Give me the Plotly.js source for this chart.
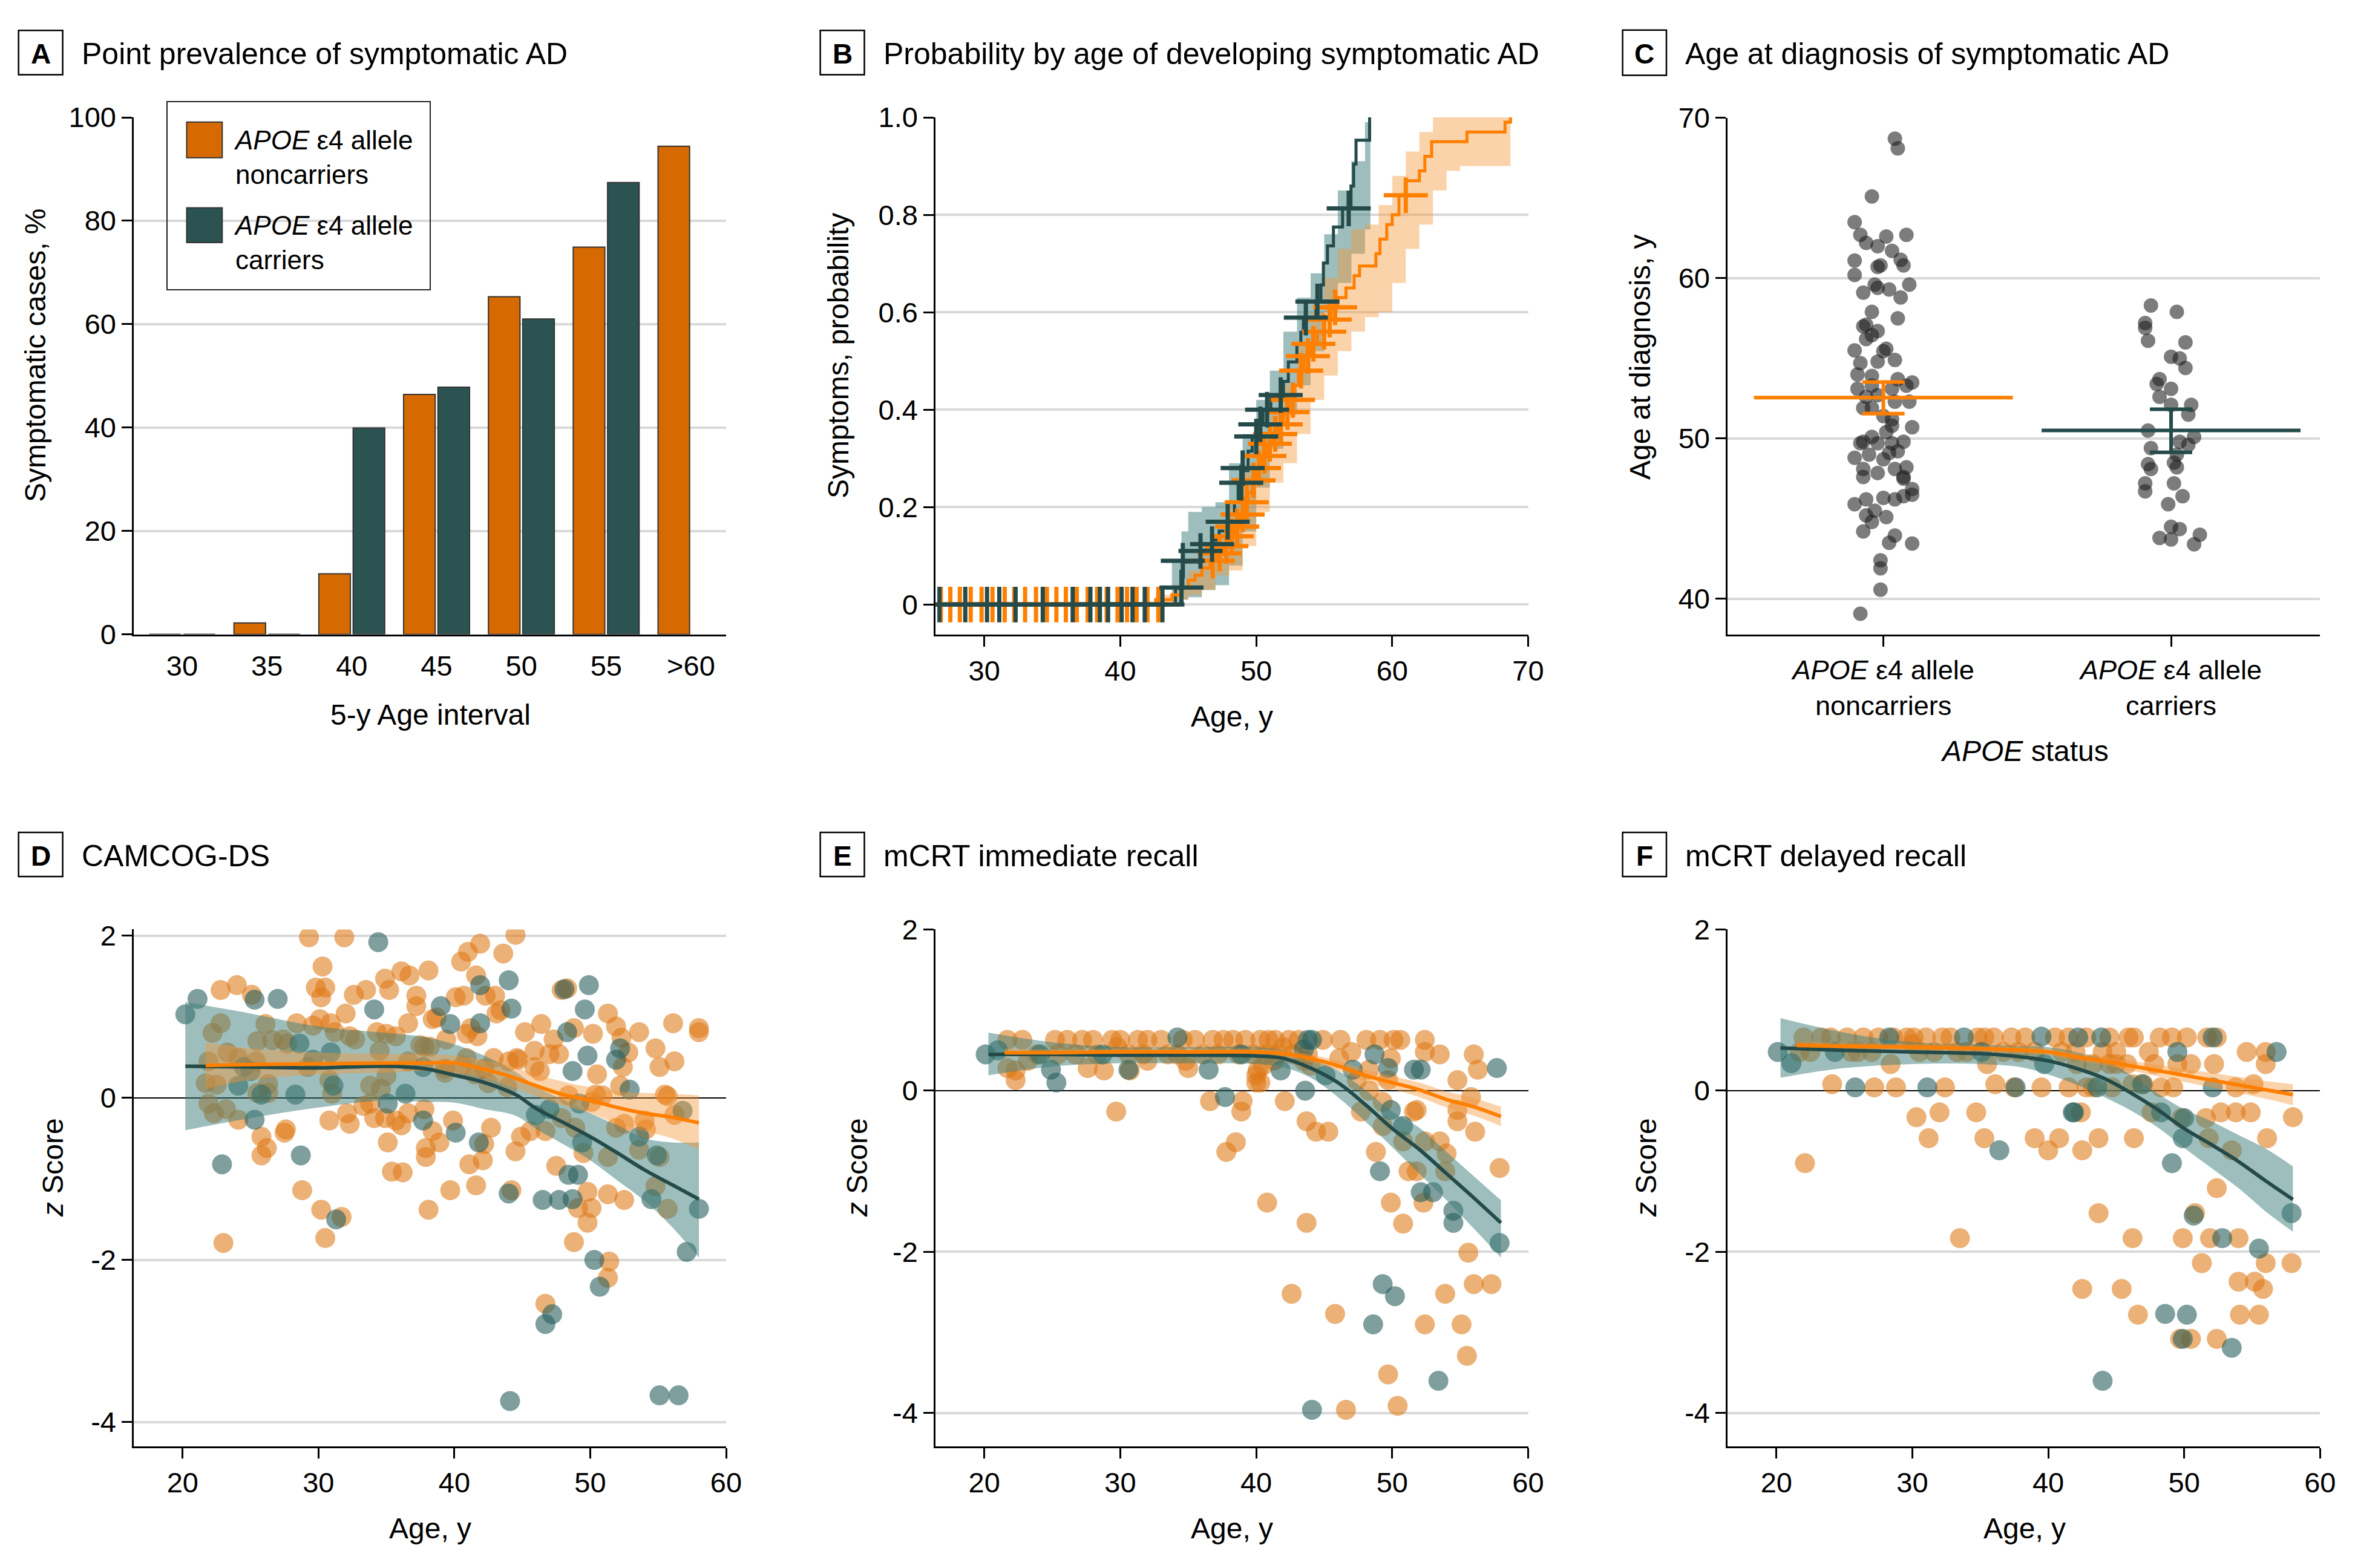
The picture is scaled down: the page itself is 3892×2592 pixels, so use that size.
<!DOCTYPE html>
<html>
<head>
<meta charset="utf-8">
<script src="https://cdn.plot.ly/plotly-3.0.1.min.js"></script>
<style>html,body{margin:0;padding:0;background:#fff;}#chart{width:3892px;height:2592px;}</style>
</head>
<body>
<div id="chart"></div>
<script>
// ---------------- DATA ----------------
// Panel A: point prevalence (%)
const ageIntervals = ['30', '35', '40', '45', '50', '55', '>60'];
const prevNoncarriers = [0, 2.2, 11.7, 46.4, 65.3, 74.9, 94.4];
const prevCarriers = [0, 0, 39.9, 47.8, 61.0, 87.4, null];

// Panel B: cumulative probability of symptoms (step curves)
const kmCarAge = [26.7, 44.06, 44.6, 45.9, 46.75, 47.27, 47.93, 48.4, 48.67, 49.04, 49.4, 49.7, 50.33, 50.5, 51.07, 52.0, 52.36, 52.99, 53.28, 53.47, 54.39, 54.76, 54.94, 55.24, 55.68, 56.35, 56.97, 57.16, 57.34, 58.34];
const kmCarProb = [0, 0.033, 0.087, 0.112, 0.132, 0.151, 0.186, 0.211, 0.25, 0.275, 0.315, 0.345, 0.369, 0.399, 0.427, 0.458, 0.498, 0.536, 0.559, 0.589, 0.622, 0.656, 0.701, 0.736, 0.775, 0.813, 0.859, 0.904, 0.953, 1.0];
const kmCarBandAge = [43.8, 44.5, 45, 46, 47, 48, 49, 50, 51, 52, 53, 54, 55, 56, 57, 58, 58.4];
const kmCarBandHi = [0.09, 0.15, 0.19, 0.20, 0.21, 0.29, 0.35, 0.42, 0.48, 0.56, 0.63, 0.68, 0.76, 0.85, 0.91, 0.99, 1.0];
const kmCarBandLo = [0.0, 0.01, 0.015, 0.03, 0.04, 0.08, 0.15, 0.24, 0.32, 0.39, 0.45, 0.52, 0.60, 0.66, 0.72, 0.77, 0.78];
const kmNonAge = [26.8, 42.6, 43.8, 44.5, 45.0, 45.5, 46.0, 46.6, 47.1, 47.6, 48.0, 48.4, 48.8, 49.1, 49.4, 49.7, 50.0, 50.4, 50.8, 51.2, 51.6, 52.0, 52.4, 52.8, 53.1, 53.5, 54.0, 54.5, 55.0, 55.5, 56.0, 56.6, 57.2, 57.6, 58.8, 59.1, 59.6, 60.0, 60.5, 61.0, 62.0, 62.4, 62.9, 65.5, 68.3, 68.7];
const kmNonProb = [0, 0.01, 0.02, 0.035, 0.05, 0.06, 0.075, 0.09, 0.105, 0.12, 0.14, 0.16, 0.185, 0.21, 0.23, 0.255, 0.28, 0.305, 0.33, 0.35, 0.37, 0.395, 0.42, 0.45, 0.48, 0.51, 0.535, 0.56, 0.585, 0.61, 0.63, 0.65, 0.675, 0.695, 0.72, 0.75, 0.78, 0.80, 0.84, 0.87, 0.89, 0.92, 0.95, 0.97, 0.99, 1.0];
const kmNonBandAge = [42.6, 44, 45, 46, 47, 48, 49, 50, 51, 52, 53, 54, 55, 56, 57, 58, 59, 60, 61, 62, 63, 64, 65, 68.7];
const kmNonBandHi = [0.02, 0.035, 0.07, 0.10, 0.14, 0.20, 0.27, 0.33, 0.40, 0.45, 0.53, 0.60, 0.67, 0.73, 0.77, 0.78, 0.82, 0.88, 0.93, 0.97, 1.0, 1.0, 1.0, 1.0];
const kmNonBandLo = [0, 0.01, 0.02, 0.03, 0.06, 0.07, 0.12, 0.19, 0.25, 0.29, 0.35, 0.42, 0.47, 0.52, 0.56, 0.59, 0.60, 0.66, 0.73, 0.78, 0.85, 0.89, 0.90, 0.91];
const censorCar = [[26.7,0],[28.6,0],[30.2,0],[31.1,0],[32.3,0],[34.3,0],[36.5,0],[37.8,0],[38.5,0],[39.1,0],[40.1,0],[40.9,0],[41.8,0],[43.1,0],
  [44.5,0.035],[44.6,0.09],[45.9,0.11],[46.75,0.124],[47.9,0.17],[48.9,0.25],[49.0,0.28],[50.0,0.345],[50.3,0.37],[50.8,0.40],[51.8,0.43],[53.65,0.589],[54.5,0.622],[56.8,0.813]];
const censorNon = [[26.8,0],[27.5,0],[28.2,0],[29.0,0],[29.8,0],[30.6,0],[31.5,0],[32.2,0],[33.0,0],[33.8,0],[34.6,0],[35.3,0],[36.0,0],[36.8,0],[37.6,0],[38.3,0],[39.0,0],[39.8,0],[40.5,0],[41.2,0],[42.0,0],[42.8,0],
  [46.8,0.09],[47.3,0.105],[47.8,0.12],[48.2,0.14],[48.6,0.16],[49.0,0.185],[49.3,0.21],[49.8,0.255],[50.2,0.28],[50.6,0.305],[51.0,0.33],[51.4,0.35],[51.8,0.37],[52.3,0.395],[52.7,0.42],[53.3,0.48],[53.8,0.51],[54.2,0.535],[55.0,0.56],[55.4,0.585],[55.8,0.61],[61.0,0.84]];

// Panel C: age at diagnosis, [jittered category position, age]
const diagNoncarriers = [[-0.08,39.07],[-0.01,40.57],[-0.01,41.9],[-0.01,42.4],[0.02,43.5],[0.10,43.45],[0.04,43.95],[-0.07,44.2],[-0.04,44.8],[-0.06,45.2],[0.01,45.1],[-0.03,45.5],[-0.10,45.9],[-0.06,46.2],[0.0,46.3],[0.04,46.2],[0.07,46.4],[0.10,46.5],[0.10,46.85],[0.07,47.5],[0.07,47.6],[-0.07,47.6],[-0.02,47.85],[0.04,48.1],[0.08,48.2],[-0.07,48.1],[-0.10,48.8],[-0.05,49.0],[0.0,48.7],[0.02,49.1],[0.05,49.2],[-0.08,49.7],[-0.07,49.8],[-0.02,49.7],[0.03,49.7],[0.07,49.8],[-0.04,50.1],[0.01,50.4],[0.10,50.7],[0.03,50.8],[0.0,51.4],[0.03,51.2],[-0.07,51.9],[-0.04,51.9],[0.04,52.3],[0.09,52.3],[-0.06,52.6],[-0.02,52.7],[-0.09,53.1],[-0.04,53.3],[0.03,53.1],[0.08,53.3],[0.10,53.5],[0.05,53.7],[-0.09,54.0],[-0.04,53.9],[-0.08,54.7],[-0.02,54.8],[0.04,54.9],[0.0,55.45],[0.01,55.6],[-0.10,55.5],[-0.06,56.2],[-0.04,56.45],[-0.02,56.7],[-0.07,57.0],[-0.06,57.1],[0.05,57.5],[-0.04,57.9],[0.06,58.8],[-0.07,59.1],[-0.02,59.4],[0.02,59.3],[-0.03,59.6],[0.09,59.6],[-0.10,60.2],[-0.02,60.7],[-0.01,60.8],[0.07,60.8],[-0.10,61.1],[0.06,61.15],[0.03,61.7],[-0.02,62.0],[-0.06,62.2],[-0.08,62.7],[0.01,62.6],[0.08,62.7],[-0.10,63.5],[-0.04,65.1],[0.05,68.1],[0.04,68.7]];
const diagCarriers = [[0.93,58.3],[1.02,57.9],[0.91,57.2],[0.91,56.9],[0.92,56.1],[1.05,56.0],[1.00,55.1],[1.03,55.0],[1.05,54.4],[0.96,53.7],[0.95,53.4],[1.00,53.1],[0.96,52.6],[1.07,52.1],[1.00,52.1],[1.06,51.5],[0.92,50.5],[1.03,49.8],[1.08,50.1],[1.06,49.6],[0.93,49.4],[1.02,49.0],[0.92,48.4],[0.93,48.1],[1.01,48.5],[1.02,48.2],[1.01,47.2],[0.91,47.2],[0.91,46.7],[1.04,46.4],[0.99,45.9],[1.00,44.5],[1.03,44.35],[0.96,43.8],[1.00,43.7],[1.10,44.0],[1.08,43.4]];
const diagMean = [52.55, 50.51];
const diagCILow = [51.55, 49.14];
const diagCIHigh = [53.52, 51.83];

// Panel D: CAMCOG-DS z scores [age, z]
const camNon = [[22.8,1.33],[24.0,1.39],[25.1,1.27],[22.8,0.92],[22.2,0.80],[21.9,0.45],[23.3,0.56],[24.1,0.49],[25.4,0.45],[26.1,0.91],[25.5,0.70],[26.6,0.71],[27.7,0.67],[27.4,0.72],[28.4,0.92],[21.7,0.18],[22.5,0.16],[25.5,0.06],[26.3,0.06],[26.3,0.17],[21.9,-0.07],[22.3,-0.19],[23.2,-0.14],[24.1,-0.27],[25.8,-0.48],[26.2,-0.62],[25.8,-0.71],[27.6,-0.39],[27.5,-0.43],[28.8,-1.14],[30.2,-1.38],[31.7,-1.47],[30.5,-1.73],[23.0,-1.79],[29.3,1.98],[31.9,1.98],[30.3,1.62],[29.8,1.36],[30.5,1.36],[30.2,1.24],[32.6,1.27],[33.5,1.33],[34.9,1.47],[35.2,1.33],[36.1,1.56],[36.7,1.51],[38.1,1.57],[37.2,1.26],[37.2,1.13],[38.4,0.97],[36.6,0.92],[29.6,0.89],[30.1,0.97],[30.9,0.92],[32.0,1.04],[32.3,0.76],[31.2,0.81],[32.7,0.72],[29.2,0.38],[34.3,0.81],[35.0,0.79],[35.7,0.76],[34.5,0.58],[36.6,0.45],[37.5,0.65],[37.8,0.63],[33.8,0.15],[35.0,0.27],[34.6,0.11],[30.8,0.22],[31.0,0.05],[33.3,-0.10],[33.8,-0.07],[34.1,-0.25],[34.9,-0.25],[35.7,-0.28],[36.1,-0.34],[36.6,-0.19],[37.8,-0.14],[30.8,-0.28],[32.1,-0.19],[32.3,-0.32],[35.1,-0.55],[35.4,-0.91],[36.2,-0.92],[37.9,-0.62],[37.9,-0.73],[38.1,-1.38],[38.4,-0.41],
  [44.5,2.01],[43.6,1.78],[41.9,1.90],[41.0,1.80],[40.5,1.68],[41.6,1.51],[40.1,1.24],[40.7,1.26],[42.3,1.26],[43.0,1.26],[43.4,1.08],[43.1,1.04],[38.7,0.99],[41.2,0.86],[41.7,0.76],[40.9,0.79],[39.4,0.72],[38.2,0.63],[39.3,0.31],[40.9,0.49],[41.5,0.29],[42.5,0.18],[42.9,0.49],[43.9,0.13],[44.6,0.49],[45.2,0.81],[46.4,0.91],[45.9,0.58],[46.3,0.33],[47.9,1.33],[48.3,1.35],[47.3,0.72],[48.8,0.86],[50.2,0.79],[47.0,0.54],[47.7,0.54],[50.5,0.29],[51.3,1.04],[51.9,0.88],[52.3,0.74],[52.8,0.56],[52.4,0.38],[53.6,0.81],[54.8,0.61],[55.1,0.38],[56.1,0.92],[56.2,0.45],[58.0,0.86],[58.0,0.81],[52.2,0.15],[50.9,0.03],[48.4,0.03],[50.1,-0.05],[55.5,0.04],[55.7,0.02],[56.2,-0.21],[47.9,-0.25],[48.9,-0.37],[51.9,-0.37],[52.5,-0.32],[54.0,-0.28],[54.1,-0.39],[53.6,-0.64],[44.9,-0.48],[45.6,-0.41],[46.7,-0.41],[44.5,-0.66],[49.5,-0.68],[51.3,-0.73],[55.1,-0.73],[47.5,-0.84],[54.8,-1.09],[55.7,-1.37],[49.8,-1.16],[51.3,-1.19],[52.5,-1.26],[49.1,-1.36],[50.1,-1.36],[49.8,-1.54],[48.8,-1.78],[51.4,-2.02],[51.3,-2.22],[46.7,-2.54],[39.7,-1.14],[41.6,-1.08],[44.2,-1.14],[41.1,-0.82],[42.1,-0.77],[42.2,-0.57],[42.7,-0.37],[39.9,-0.28],[38.9,-0.55],[39.3,0.36],[40.6,0.40],[42.2,0.36],[44.0,0.45],[44.7,0.47],[45.9,0.38],[50.4,0.04]];
const camCar = [[20.2,1.03],[21.1,1.22],[25.3,1.21],[27.0,1.22],[28.6,0.67],[24.1,0.15],[25.0,0.33],[24.5,0.38],[25.8,0.04],[28.3,0.04],[25.3,-0.27],[22.9,-0.82],[28.7,-0.71],[31.3,-1.50],[34.4,1.92],[34.1,1.09],[30.9,0.56],[29.6,0.47],[37.7,0.38],[36.4,0.05],[31.1,0.15],[35.1,-0.07],[37.7,-0.28],[44.0,1.45],[41.9,1.39],[44.2,1.10],[39.0,1.13],[39.7,0.91],[41.9,0.92],[48.1,1.34],[49.9,1.39],[49.6,1.09],[48.3,0.81],[48.7,0.33],[49.8,0.52],[52.2,0.61],[51.9,0.47],[52.9,0.10],[49.2,-0.07],[56.8,-0.16],[46.0,-0.21],[47.0,-0.14],[53.6,-0.48],[49.4,-0.55],[54.9,-0.71],[48.4,-0.95],[49.1,-0.95],[54.5,-1.25],[58.0,-1.37],[46.5,-1.26],[47.7,-1.26],[48.7,-1.25],[50.3,-2.00],[57.1,-1.90],[50.7,-2.33],[47.2,-2.67],[46.7,-2.79],[44.1,-3.74],[55.1,-3.67],[56.5,-3.67],[44.0,-1.18],[41.8,-0.55],[40.1,-0.43]];
const camFitCarAge = [20.2, 25, 30, 35, 37.8, 40, 42.2, 44.5, 46, 48.2, 50, 52, 54, 56, 58];
const camFitCar = [0.39, 0.38, 0.37, 0.39, 0.36, 0.28, 0.19, 0.04, -0.13, -0.32, -0.48, -0.68, -0.89, -1.07, -1.25];
const camFitCarHi = [1.18, 1.04, 0.88, 0.80, 0.75, 0.66, 0.52, 0.32, 0.14, -0.04, -0.19, -0.34, -0.50, -0.55, -0.55];
const camFitCarLo = [-0.40, -0.25, -0.12, -0.03, -0.05, -0.06, -0.14, -0.22, -0.38, -0.59, -0.77, -1.02, -1.27, -1.59, -1.97];
const camFitNonAge = [21.7, 25, 30, 35, 38, 40, 42, 44, 46, 48, 50, 52, 54, 56, 58];
const camFitNon = [0.40, 0.41, 0.42, 0.43, 0.43, 0.43, 0.36, 0.27, 0.15, 0.04, -0.03, -0.12, -0.19, -0.24, -0.31];
const camFitNonHi = [0.68, 0.61, 0.56, 0.54, 0.54, 0.52, 0.47, 0.40, 0.29, 0.20, 0.13, 0.08, 0.06, 0.05, 0.03];
const camFitNonLo = [0.11, 0.22, 0.29, 0.31, 0.33, 0.31, 0.26, 0.15, 0.02, -0.10, -0.19, -0.32, -0.41, -0.50, -0.64];

// Panel E: mCRT immediate recall
const immNon = [[29.7,-0.26],[36.6,-0.13],[39.0,-0.13],[38.9,-0.26],[38.5,-0.64],[37.8,-0.76],[40.0,0.10],[42.1,-0.13],[43.7,-0.38],[44.4,-0.51],[45.3,-0.51],[40.8,-1.39],[43.7,-1.64],[42.6,-2.52],[45.8,-2.77],[46.6,-3.96],[49.7,-3.52],[50.4,-3.91],[48.8,-0.76],[49.9,-1.39],[50.8,-1.65],[51.2,-1.0],[51.8,-1.0],[52.3,-1.39],[52.4,-2.90],[53.9,-2.52],[55.1,-2.90],[55.5,-3.29],[55.6,-2.01],[56.0,-2.40],[57.3,-2.40],[57.9,-0.96],[53.5,-0.63],[54.0,-0.78],[53.9,-1.0],[52.4,-0.63],[50.8,-0.63],[49.3,-0.44],[49.3,-0.14],[47.7,-0.26],[48.3,0.0],[51.6,-0.26],[54.8,-0.38],[54.8,-0.24],[55.8,-0.08],[56.1,-0.51],[54.8,0.13],[56.3,0.26],[56.0,0.45],[53.5,0.45],[52.4,0.48],[52.4,0.63],[51.8,-0.24],[49.7,0.13],[49.9,0.40],[50.1,0.63],[50.6,0.63],[49.1,0.63],[48.1,0.63],[48.3,0.26],[47.4,0.13],[47.0,0.48],[46.1,0.40],[46.2,0.63],[44.9,0.63],[44.0,0.31],[43.8,0.45],[40.0,0.19],[40.5,0.31],
  [21.7,0.63],[22.3,0.25],[22.3,0.13],[22.8,0.63],[23.2,0.37],[21.7,0.28],[25.2,0.63],[25.4,0.45],[26.1,0.63],[27.6,0.28],[27.2,0.63],[28.0,0.63],[28.8,0.25],[29.4,0.63],[30.0,0.63],[30.7,0.25],[31.3,0.63],[32.0,0.37],[32.0,0.63],[33.0,0.63],[33.5,0.45],[34.6,0.63],[35.0,0.28],[35.5,0.63],[36.1,0.45],[36.8,0.63],[37.2,0.45],[37.6,0.63],[38.3,0.63],[39.2,0.63],[39.8,0.45],[40.3,0.63],[40.7,0.45],[40.9,0.63],[41.3,0.37],[41.4,0.63],[42.0,0.54],[42.4,0.63],[42.7,0.45],[43.1,0.63],[43.5,0.37],[23.9,0.45],[26.7,0.45],[28.3,0.45],[29.8,0.54],[30.6,0.45],[31.7,0.45],[34.2,0.45],[34.8,0.37],[38.7,0.45],[40.1,0.25],[40.3,0.10],[41.6,0.45]];
const immCar = [[20.1,0.45],[21.0,0.50],[24.1,0.45],[24.9,0.26],[25.3,0.10],[28.7,0.45],[30.6,0.26],[34.2,0.66],[36.5,0.26],[38.9,0.45],[41.8,0.25],[43.5,0.51],[43.8,0.63],[37.7,-0.08],[43.6,0.0],[44.1,-3.96],[48.6,-2.90],[49.3,-2.40],[50.2,-2.55],[49.1,-1.00],[52.1,-1.26],[53.0,-1.26],[53.4,-3.60],[57.9,-1.89],[54.5,-1.49],[54.5,-1.64],[49.9,-0.24],[50.8,-0.44],[57.7,0.28],[52.1,0.26],[51.6,0.26],[49.7,0.28],[48.7,0.45],[47.1,0.26],[45.1,0.19],[44.1,0.63]];
const immFitCarAge = [20.3, 25, 30, 35, 40, 42, 44, 46, 48, 50, 52, 54, 56, 58];
const immFitCar = [0.45, 0.45, 0.44, 0.44, 0.43, 0.40, 0.28, 0.10, -0.17, -0.47, -0.73, -1.03, -1.33, -1.64];
const immFitCarHi = [0.72, 0.60, 0.54, 0.54, 0.54, 0.50, 0.40, 0.25, 0.01, -0.26, -0.46, -0.76, -1.06, -1.36];
const immFitCarLo = [0.19, 0.30, 0.34, 0.34, 0.33, 0.29, 0.16, -0.08, -0.38, -0.70, -1.03, -1.36, -1.71, -2.07];
const immFitNonAge = [21.5, 25, 30, 35, 40, 42, 44, 46, 48, 50, 52, 54, 56, 58];
const immFitNon = [0.47, 0.47, 0.48, 0.48, 0.48, 0.46, 0.40, 0.31, 0.19, 0.10, 0.01, -0.11, -0.20, -0.32];
const immFitNonHi = [0.52, 0.51, 0.52, 0.52, 0.52, 0.50, 0.45, 0.37, 0.26, 0.18, 0.10, -0.01, -0.09, -0.20];
const immFitNonLo = [0.42, 0.43, 0.44, 0.44, 0.44, 0.42, 0.35, 0.25, 0.12, 0.02, -0.08, -0.21, -0.31, -0.44];

// Panel F: mCRT delayed recall
const delNon = [[22.1,-0.90],[24.1,0.08],[27.2,0.04],[28.8,0.04],[30.3,-0.33],[31.2,-0.59],[32.0,-0.27],[32.4,0.04],[33.5,-1.83],[34.7,-0.27],[35.3,-0.59],[36.1,0.08],[37.5,0.04],[39.0,-0.59],[39.5,0.04],[40.0,-0.74],[40.8,-0.59],[41.5,0.04],[42.5,-0.74],[42.5,-2.46],[42.8,0.04],[42.4,-0.27],[43.7,-0.59],[43.7,-1.52],[45.4,-2.46],[44.7,0.04],[46.2,-1.83],[46.3,-0.59],[46.6,-2.78],[47.6,-0.27],[48.3,0.04],[49.2,0.04],[49.8,-0.34],[49.9,-1.83],[49.7,-3.08],[50.5,-3.08],[50.8,-1.52],[51.3,-2.14],[51.6,-0.34],[51.8,-0.59],[51.9,-1.83],[52.4,-1.21],[52.4,-3.08],[52.7,-0.27],[53.5,-0.74],[53.8,-0.27],[53.8,0.04],[54.0,-1.83],[54.0,-2.37],[54.1,-2.78],[54.9,-0.27],[55.1,0.08],[55.2,-2.37],[55.5,-2.78],[55.8,-2.46],[56.0,-2.14],[56.1,-0.59],[56.0,0.33],[54.6,0.48],[56.0,0.48],[57.9,-2.14],[58.0,-0.33],[52.2,0.33],[52.4,0.66],[51.7,0.66],[50.5,0.33],[50.2,0.66],[49.1,0.66],[48.2,0.66],[49.5,0.33],[47.4,0.48],[47.8,0.33],[45.9,0.66],[46.3,0.66],[45.8,0.33],[45.0,0.48],[44.5,0.33],[43.3,0.04],[42.1,0.33],
  [22.0,0.66],[22.5,0.48],[23.3,0.66],[24.0,0.66],[25.2,0.66],[25.5,0.48],[26.4,0.66],[27.0,0.48],[27.5,0.66],[28.6,0.66],[29.6,0.66],[30.1,0.66],[30.5,0.48],[31.0,0.66],[31.6,0.48],[32.2,0.66],[32.8,0.66],[33.3,0.48],[34.0,0.48],[34.8,0.66],[35.3,0.66],[35.5,0.33],[36.0,0.66],[36.7,0.48],[37.3,0.66],[37.8,0.48],[38.3,0.66],[39.0,0.48],[40.5,0.66],[41.0,0.48],[41.5,0.66],[42.0,0.48],[42.8,0.66],[43.3,0.33],[44.0,0.48],[44.5,0.66],[45.0,0.33],[28.4,0.33],[30.0,0.58],[21.7,0.48],[46.2,0.08],[47.0,0.08],[26.0,0.48]];
const delCar = [[20.1,0.48],[21.1,0.34],[25.8,0.04],[31.1,0.04],[36.4,-0.74],[41.8,-0.27],[43.6,0.04],[44.0,-3.60],[46.9,0.08],[48.3,-0.27],[49.1,-0.90],[49.9,-0.59],[50.0,-0.34],[49.5,0.48],[48.6,-2.77],[50.2,-2.78],[49.9,-3.08],[50.7,-1.55],[52.1,0.04],[52.1,0.66],[52.8,-1.83],[53.5,-3.19],[55.5,-1.96],[56.8,0.48],[57.9,-1.52],[33.8,0.66],[39.5,0.67],[35.1,0.48],[42.2,0.66],[43.9,0.66],[39.7,0.33],[24.3,0.48],[28.3,0.66],[37.6,0.04],[41.9,-0.27]];
const delFitCarAge = [20.3, 25, 30, 35, 38, 40, 42, 44, 46, 48, 50, 52, 54, 56, 58];
const delFitCar = [0.53, 0.50, 0.48, 0.46, 0.42, 0.37, 0.28, 0.16, -0.02, -0.23, -0.47, -0.67, -0.88, -1.12, -1.35];
const delFitCarHi = [0.90, 0.72, 0.60, 0.57, 0.55, 0.54, 0.48, 0.39, 0.20, -0.03, -0.23, -0.38, -0.55, -0.72, -0.94];
const delFitCarLo = [0.16, 0.28, 0.33, 0.33, 0.29, 0.20, 0.08, -0.07, -0.24, -0.45, -0.71, -0.96, -1.21, -1.50, -1.75];
const delFitNonAge = [21.5, 25, 30, 35, 40, 42, 44, 46, 48, 50, 52, 54, 56, 58];
const delFitNon = [0.56, 0.55, 0.54, 0.52, 0.48, 0.42, 0.37, 0.31, 0.25, 0.19, 0.13, 0.07, 0.01, -0.05];
const delFitNonHi = [0.61, 0.59, 0.58, 0.56, 0.52, 0.47, 0.42, 0.37, 0.32, 0.27, 0.22, 0.17, 0.12, 0.08];
const delFitNonLo = [0.51, 0.51, 0.50, 0.48, 0.44, 0.37, 0.32, 0.25, 0.18, 0.11, 0.04, -0.03, -0.10, -0.18];

// ---------------- STYLE ----------------
const FONT = 'Liberation Sans, Arial, sans-serif';
const W = 3892, H = 2592;
const C_BAR_OR = '#D66A00', C_BAR_TE = '#2B5352';
const C_LINE_OR = '#FF7F00', C_LINE_TE = '#244B4A';
const C_BAND_OR = 'rgba(245,150,55,0.42)', C_BAND_TE = 'rgba(60,125,122,0.5)';
const C_PT_OR = 'rgba(223,120,20,0.58)', C_PT_TE = 'rgba(40,95,93,0.6)';
const GRID = '#D9D9D9';
const px = v => v / W, py = v => 1 - v / H;

const colX = [[221.4, 1200], [1546.3, 2525.5], [2855.4, 3834.3]];
const rowY = [[194, 1048.5], [1536.4, 2390.5]];
const dom = (c) => [px(colX[c][0]), px(colX[c][1])];
const domY = (r) => [py(rowY[r][1]), py(rowY[r][0])];

function ax(extra) {
  return Object.assign({
    showline: true, linecolor: '#000', linewidth: 3, mirror: false,
    ticks: 'outside', ticklen: 17, tickwidth: 3, tickcolor: '#000',
    tickfont: {family: FONT, size: 47, color: '#000'},
    showgrid: false, zeroline: false, fixedrange: true
  }, extra);
}

const traces = [];
// ---- A: bars
traces.push({type: 'bar', x: ageIntervals, y: prevNoncarriers, xaxis: 'x', yaxis: 'y',
  marker: {color: C_BAR_OR, line: {color: '#333', width: 2}}, hoverinfo: 'none'});
traces.push({type: 'bar', x: ageIntervals, y: prevCarriers, xaxis: 'x', yaxis: 'y',
  marker: {color: C_BAR_TE, line: {color: '#333', width: 2}}, hoverinfo: 'none'});

// ---- B: bands, steps, censor marks
function band(xs, lo, hi, color, xa, ya, shape) {
  traces.push({type: 'scatter', mode: 'lines', x: xs, y: lo, xaxis: xa, yaxis: ya,
    line: {width: 0, shape: shape}, hoverinfo: 'none'});
  traces.push({type: 'scatter', mode: 'lines', x: xs, y: hi, xaxis: xa, yaxis: ya,
    line: {width: 0, shape: shape}, fill: 'tonexty', fillcolor: color, hoverinfo: 'none'});
}
band(kmCarBandAge, kmCarBandLo, kmCarBandHi, 'rgba(60,125,122,0.5)', 'x2', 'y2', 'hv');
band(kmNonBandAge, kmNonBandLo, kmNonBandHi, 'rgba(245,150,55,0.42)', 'x2', 'y2', 'hv');
traces.push({type: 'scatter', mode: 'lines', x: kmCarAge, y: kmCarProb, xaxis: 'x2', yaxis: 'y2',
  line: {color: C_LINE_TE, width: 5, shape: 'hv'}, hoverinfo: 'none'});
traces.push({type: 'scatter', mode: 'lines', x: kmNonAge, y: kmNonProb, xaxis: 'x2', yaxis: 'y2',
  line: {color: C_LINE_OR, width: 5, shape: 'hv'}, hoverinfo: 'none'});
function censor(pts, color) {
  const xs = pts.map(p => p[0]), ys = pts.map(p => p[1]);
  traces.push({type: 'scatter', mode: 'markers', x: xs, y: ys, xaxis: 'x2', yaxis: 'y2',
    marker: {symbol: 'line-ew', size: 52, line: {color: color, width: 7}}, hoverinfo: 'none'});
  traces.push({type: 'scatter', mode: 'markers', x: xs, y: ys, xaxis: 'x2', yaxis: 'y2',
    marker: {symbol: 'line-ns', size: 42, line: {color: color, width: 7}}, hoverinfo: 'none'});
}
censor(censorNon, C_LINE_OR);
censor(censorCar, C_LINE_TE);

// ---- C: jittered points + mean and CI
traces.push({type: 'scatter', mode: 'markers', x: diagNoncarriers.map(p => p[0]), y: diagNoncarriers.map(p => p[1]),
  xaxis: 'x3', yaxis: 'y3', marker: {size: 24, color: 'rgba(30,30,30,0.58)'}, hoverinfo: 'none'});
traces.push({type: 'scatter', mode: 'markers', x: diagCarriers.map(p => p[0]), y: diagCarriers.map(p => p[1]),
  xaxis: 'x3', yaxis: 'y3', marker: {size: 24, color: 'rgba(30,30,30,0.58)'}, hoverinfo: 'none'});
const meanColors = [C_LINE_OR, C_LINE_TE];
[0, 1].forEach(i => {
  traces.push({type: 'scatter', mode: 'lines', x: [i - 0.45, i + 0.45], y: [diagMean[i], diagMean[i]],
    xaxis: 'x3', yaxis: 'y3', line: {color: meanColors[i], width: 6}, hoverinfo: 'none'});
  traces.push({type: 'scatter', mode: 'markers', x: [i], y: [diagMean[i]], xaxis: 'x3', yaxis: 'y3',
    marker: {size: 1, opacity: 0}, hoverinfo: 'none',
    error_y: {type: 'data', symmetric: false, array: [diagCIHigh[i] - diagMean[i]], arrayminus: [diagMean[i] - diagCILow[i]],
      color: meanColors[i], thickness: 6, width: 35}});
});

// ---- D/E/F
function scorePanel(xa, ya, non, car, fNA, fN, fNH, fNL, fCA, fC, fCH, fCL) {
  traces.push({type: 'scatter', mode: 'markers', x: non.map(p => p[0]), y: non.map(p => p[1]), xaxis: xa, yaxis: ya,
    marker: {size: 33, color: C_PT_OR}, hoverinfo: 'none'});
  traces.push({type: 'scatter', mode: 'markers', x: car.map(p => p[0]), y: car.map(p => p[1]), xaxis: xa, yaxis: ya,
    marker: {size: 33, color: C_PT_TE}, hoverinfo: 'none'});
  band(fCA, fCL, fCH, C_BAND_TE, xa, ya, 'spline');
  band(fNA, fNL, fNH, C_BAND_OR, xa, ya, 'spline');
  traces.push({type: 'scatter', mode: 'lines', x: fCA, y: fC, xaxis: xa, yaxis: ya,
    line: {color: C_LINE_TE, width: 6, shape: 'spline'}, hoverinfo: 'none'});
  traces.push({type: 'scatter', mode: 'lines', x: fNA, y: fN, xaxis: xa, yaxis: ya,
    line: {color: C_LINE_OR, width: 6, shape: 'spline'}, hoverinfo: 'none'});
}
scorePanel('x4', 'y4', camNon, camCar, camFitNonAge, camFitNon, camFitNonHi, camFitNonLo, camFitCarAge, camFitCar, camFitCarHi, camFitCarLo);
scorePanel('x5', 'y5', immNon, immCar, immFitNonAge, immFitNon, immFitNonHi, immFitNonLo, immFitCarAge, immFitCar, immFitCarHi, immFitCarLo);
scorePanel('x6', 'y6', delNon, delCar, delFitNonAge, delFitNon, delFitNonHi, delFitNonLo, delFitCarAge, delFitCar, delFitCarHi, delFitCarLo);

// ---------------- LAYOUT ----------------
const zTicks = {tickmode: 'array', tickvals: [-4, -2, 0, 2], ticktext: ['-4', '-2', '0', '2'],
  showgrid: true, gridcolor: GRID, gridwidth: 4, zeroline: true, zerolinecolor: '#000', zerolinewidth: 2.5};
const ageTicks = {tickmode: 'array', tickvals: [20, 30, 40, 50, 60], range: [16.42, 60]};

const layout = {
  width: W, height: H, margin: {l: 0, r: 0, t: 0, b: 0}, paper_bgcolor: '#fff', plot_bgcolor: '#fff',
  showlegend: false, barmode: 'group', bargap: 0.19, bargroupgap: 0.08,
  font: {family: FONT, color: '#000'},
  xaxis: ax({domain: dom(0), anchor: 'y', type: 'category', range: [-0.568, 6.414], tickcolor: 'rgba(0,0,0,0)', ticklen: 9}),
  yaxis: ax({domain: domY(0), anchor: 'x', range: [0, 100], tickvals: [0, 20, 40, 60, 80, 100], showgrid: true, gridcolor: GRID, gridwidth: 4}),
  xaxis2: ax({domain: dom(1), anchor: 'y2', range: [26.42, 70], tickvals: [30, 40, 50, 60, 70]}),
  yaxis2: ax({domain: domY(0), anchor: 'x2', range: [-0.061, 1.0], tickvals: [0, 0.2, 0.4, 0.6, 0.8, 1.0],
    ticktext: ['0', '0.2', '0.4', '0.6', '0.8', '1.0'], showgrid: true, gridcolor: GRID, gridwidth: 4}),
  xaxis3: ax({domain: dom(2), anchor: 'y3', range: [-0.541, 1.518], tickvals: [0, 1],
    ticktext: ['<i>APOE</i> ε4 allele<br>noncarriers', '<i>APOE</i> ε4 allele<br>carriers'], tickfont: {family: FONT, size: 45, color: '#000'}}),
  yaxis3: ax({domain: [py(1049), py(194.9)], anchor: 'x3', range: [37.77, 70], tickvals: [40, 50, 60, 70], showgrid: true, gridcolor: GRID, gridwidth: 4}),
  xaxis4: ax(Object.assign({domain: dom(0), anchor: 'y4'}, ageTicks)),
  yaxis4: ax(Object.assign({domain: domY(1), anchor: 'x4', range: [-4.296, 2.077]}, zTicks)),
  xaxis5: ax(Object.assign({domain: dom(1), anchor: 'y5'}, ageTicks)),
  yaxis5: ax(Object.assign({domain: domY(1), anchor: 'x5', range: [-4.41, 2]}, zTicks)),
  xaxis6: ax(Object.assign({domain: dom(2), anchor: 'y6'}, ageTicks)),
  yaxis6: ax(Object.assign({domain: domY(1), anchor: 'x6', range: [-4.41, 2]}, zTicks)),
  shapes: [], annotations: []
};

function text(x, y, t, o) {
  layout.annotations.push(Object.assign({xref: 'paper', yref: 'paper', x: px(x), y: py(y), text: t, showarrow: false,
    xanchor: 'center', yanchor: 'middle', font: {family: FONT, size: 48, color: '#000'}}, o || {}));
}
function rect(x0, y0, x1, y1, o) {
  layout.shapes.push(Object.assign({type: 'rect', xref: 'paper', yref: 'paper', x0: px(x0), x1: px(x1), y0: py(y1), y1: py(y0),
    line: {color: '#000', width: 2.5}, fillcolor: 'rgba(0,0,0,0)'}, o || {}));
}

// panel labels and titles
const panels = [
  ['A', 'Point prevalence of symptomatic AD', 30.7, 103.6, 50.2, 123.6, 132.7],
  ['B', 'Probability by age of developing symptomatic AD', 1355.6, 1428.5, 50.2, 123.6, 1457.5],
  ['C', 'Age at diagnosis of symptomatic AD', 2681.6, 2754, 49.8, 124.4, 2783],
  ['D', 'CAMCOG-DS', 30.7, 103.6, 1376, 1449, 132.7],
  ['E', 'mCRT immediate recall', 1355.6, 1428.5, 1376, 1449, 1457.5],
  ['F', 'mCRT delayed recall', 2681.6, 2754, 1376, 1449, 2783]
];
panels.forEach(p => {
  rect(p[2], p[4], p[3], p[5]);
  text((p[2] + p[3]) / 2, (p[4] + p[5]) / 2 + 2, '<b>' + p[0] + '</b>', {font: {family: FONT, size: 46, color: '#000'}});
  text(p[6], (p[4] + p[5]) / 2 + 2, p[1], {xanchor: 'left', font: {family: FONT, size: 50, color: '#000'}});
});

// axis titles
text(58, 588, 'Symptomatic cases, %', {textangle: -90});
text(711, 1181, '5-y Age interval');
text(1385, 588, 'Symptoms, probability', {textangle: -90});
text(2036, 1184, 'Age, y');
text(2711, 590, 'Age at diagnosis, y', {textangle: -90});
text(3346, 1241, '<i>APOE</i> status');
text(87, 1930, '<i>z</i> Score', {textangle: -90});
text(711, 2526, 'Age, y');
text(1416, 1930, '<i>z</i> Score', {textangle: -90});
text(2036, 2526, 'Age, y');
text(2720, 1930, '<i>z</i> Score', {textangle: -90});
text(3346, 2526, 'Age, y');

// Panel A legend
rect(276, 168, 711, 479, {line: {color: '#222', width: 2}});
rect(308.5, 201.7, 367.3, 260.7, {fillcolor: C_BAR_OR, line: {color: '#333', width: 2}});
rect(308.5, 343.6, 367.3, 401, {fillcolor: C_BAR_TE, line: {color: '#333', width: 2}});
text(384, 260, '<i>APOE</i> ε4 allele<br>noncarriers', {xanchor: 'left', align: 'left', font: {family: FONT, size: 44, color: '#000'}});
text(384, 401, '<i>APOE</i> ε4 allele<br>carriers', {xanchor: 'left', align: 'left', font: {family: FONT, size: 44, color: '#000'}});

Plotly.newPlot('chart', traces, layout, {staticPlot: true, displayModeBar: false});
</script>
</body>
</html>
